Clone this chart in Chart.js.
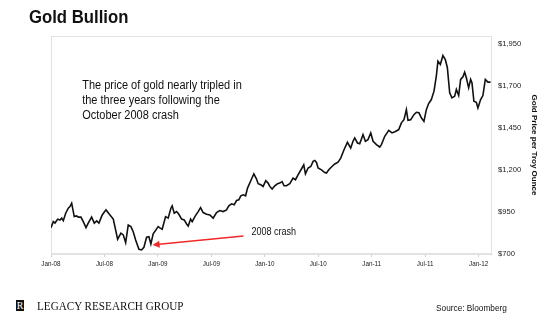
<!DOCTYPE html>
<html>
<head>
<meta charset="utf-8">
<script src="https://cdn.jsdelivr.net/npm/chart.js@4.4.1/dist/chart.umd.min.js"></script>
<style>
  html, body { margin: 0; padding: 0; background: #fff; }
  #wrap { position: relative; width: 560px; height: 321px; overflow: hidden; }
  #chart { position: absolute; left: 0; top: 0; }
  .txt { position: absolute; white-space: nowrap; line-height: 1; transform-origin: 0 0; color: #111; }
  #title { left: 29px; top: 5.9px; font: bold 19px 'Liberation Sans', Arial, sans-serif; transform: scaleX(0.88); }
  #logo { position: absolute; left: 16px; top: 300px; width: 8px; height: 11px; background: #111; color: #fff;
          font: 10px 'Liberation Serif', serif; line-height: 11px; text-align: center; }
  #brand { left: 37px; top: 299.9px; font: 11.5px 'Liberation Serif', 'Times New Roman', serif; transform: scaleX(0.97); }
  #source { left: 436px; top: 303.4px; font: 9px 'Liberation Sans', Arial, sans-serif; transform: scaleX(0.92); }
</style>
</head>
<body>
<div id="wrap">
  <canvas id="chart" width="560" height="321"></canvas>
  <div class="txt" id="title">Gold Bullion</div>
  <div id="logo">R</div>
  <div class="txt" id="brand">LEGACY RESEARCH GROUP</div>
  <div class="txt" id="source">Source: Bloomberg</div>
</div>
<script>
// months since Jan-2008
const months = [0, 0.26, 0.45, 0.75, 1.01, 1.2, 1.38, 1.65, 1.94, 2.13, 2.32, 2.61, 2.88, 3.06, 3.36, 3.62, 3.93, 4.18, 4.56, 4.86,
  5.13, 5.38, 5.75, 6.17, 6.62, 6.99, 7.48, 7.85, 8.11, 8.38, 8.67, 8.97, 9.23, 9.5, 9.87, 10.17, 10.43, 10.73, 10.99, 11.21,
  11.47, 11.78, 12.03, 12.22, 12.48, 12.86, 13.15, 13.46, 13.6, 13.83, 14.1, 14.35, 14.66, 14.95, 15.22, 15.4, 15.67, 15.85, 16.15, 16.52,
  16.79, 17.08, 17.46, 17.83, 18.2, 18.58, 18.95, 19.32, 19.7, 19.96, 20.27, 20.56, 20.83, 21.08, 21.31, 21.57, 21.84, 22.06, 22.51, 22.77,
  23.07, 23.25, 23.55, 23.81, 24.11, 24.37, 24.56, 24.82, 25.12, 25.42, 25.68, 25.94, 26.16, 26.43, 26.8, 27.17, 27.44, 27.73, 28.11, 28.37,
  28.56, 28.86, 29.16, 29.42, 29.61, 29.8, 29.98, 30.36, 30.73, 30.92, 31.18, 31.48, 31.85, 32.22, 32.52, 32.89, 33.27, 33.64, 33.9, 34.09,
  34.4, 34.65, 35.02, 35.29, 35.58, 35.89, 36.15, 36.53, 36.9, 37.09, 37.46, 37.91, 38.28, 38.66, 39.03, 39.33, 39.62, 39.89, 40.07, 40.37,
  40.74, 41.01, 41.3, 41.57, 41.86, 42.13, 42.39, 42.69, 42.99, 43.25, 43.43, 43.7, 43.99, 44.26, 44.49, 44.75, 45.0, 45.31, 45.5, 45.76,
  45.98, 46.24, 46.43, 46.62, 46.88, 47.1, 47.25, 47.47, 47.74, 47.92, 48.22, 48.48, 48.75, 49.04, 49.34];

// gold price, $ per troy ounce
const prices = [857, 893, 885, 908, 903, 914, 899, 943, 973, 983, 1003, 923, 927, 920, 920, 893, 857, 884, 920, 884,
  897, 884, 933, 963, 933, 908, 788, 824, 814, 768, 873, 863, 833, 784, 728, 724, 740, 800, 803, 760,
  820, 844, 863, 856, 848, 923, 914, 973, 987, 943, 953, 937, 908, 903, 879, 867, 908, 893, 923, 953,
  977, 947, 937, 933, 914, 947, 959, 953, 963, 987, 999, 993, 1019, 1023, 1047, 1053, 1047, 1093, 1147, 1178,
  1147, 1119, 1113, 1103, 1137, 1123, 1103, 1087, 1107, 1119, 1123, 1132, 1107, 1107, 1119, 1153, 1143, 1172, 1207, 1232,
  1178, 1213, 1222, 1252, 1258, 1246, 1213, 1202, 1186, 1183, 1202, 1219, 1237, 1248, 1272, 1322, 1366, 1332, 1372, 1392,
  1362, 1358, 1412, 1372, 1382, 1422, 1372, 1352, 1338, 1352, 1402, 1437, 1422, 1431, 1442, 1482, 1501, 1561, 1497, 1501,
  1531, 1545, 1542, 1512, 1491, 1561, 1597, 1621, 1671, 1760, 1850, 1830, 1884, 1860, 1811, 1661, 1631, 1641, 1681, 1645,
  1741, 1757, 1784, 1751, 1691, 1741, 1721, 1611, 1605, 1571, 1621, 1645, 1741, 1725, 1725];

const xTickMonths = [0, 6, 12, 18, 24, 30, 36, 42, 48];
const xTickLabels = ['Jan-08', 'Jul-08', 'Jan-09', 'Jul-09', 'Jan-10', 'Jul-10', 'Jan-11', 'Jul-11', 'Jan-12'];
const yTicks = [700, 950, 1200, 1450, 1700, 1950];

const noteLines = ['The price of gold nearly tripled in', 'the three years following the', 'October 2008 crash'];

const sans = "'Liberation Sans', Arial, sans-serif";

// box around the plot, the note text and the red arrow
const extras = {
    id: 'extras',
    beforeDatasetsDraw(chart) {
        const { ctx, chartArea: a } = chart;
        ctx.save();
        ctx.strokeStyle = '#e2e2e2';
        ctx.lineWidth = 1;
        ctx.strokeRect(a.left + 0.5, a.top + 0.5, a.right - a.left - 1, a.bottom - a.top - 1);
        ctx.restore();
    },
    afterDraw(chart) {
        const { ctx } = chart;
        const xs = chart.scales.x, ys = chart.scales.y;

        function squishText(text, x, y, sx) {
            ctx.save();
            ctx.translate(x, y);
            ctx.scale(sx, 1);
            ctx.fillText(text, 0, 0);
            ctx.restore();
        }

        ctx.save();
        ctx.fillStyle = '#111';
        ctx.font = "12.5px " + sans;
        ctx.textBaseline = 'middle';
        const nx = xs.getPixelForValue(3.5);
        const ny = ys.getPixelForValue(1705);
        noteLines.forEach((t, i) => squishText(t, nx, ny + i * 15, 0.88));

        // 2008 crash arrow
        const x1 = xs.getPixelForValue(21.6), y1 = ys.getPixelForValue(808);
        const x2 = xs.getPixelForValue(11.4), y2 = ys.getPixelForValue(754);
        const ang = Math.atan2(y2 - y1, x2 - x1);
        ctx.strokeStyle = '#f02828';
        ctx.fillStyle = '#f02828';
        ctx.lineWidth = 1.5;
        ctx.beginPath();
        ctx.moveTo(x1, y1);
        ctx.lineTo(x2 - Math.cos(ang) * 4, y2 - Math.sin(ang) * 4);
        ctx.stroke();
        ctx.beginPath();
        ctx.moveTo(x2, y2);
        ctx.lineTo(x2 - Math.cos(ang) * 7 - Math.sin(ang) * 3.5, y2 - Math.sin(ang) * 7 + Math.cos(ang) * 3.5);
        ctx.lineTo(x2 - Math.cos(ang) * 7 + Math.sin(ang) * 3.5, y2 - Math.sin(ang) * 7 - Math.cos(ang) * 3.5);
        ctx.closePath();
        ctx.fill();

        ctx.fillStyle = '#111';
        ctx.font = "10.5px " + sans;
        squishText('2008 crash', xs.getPixelForValue(22.5), ys.getPixelForValue(832), 0.86);
        ctx.restore();
    }
};

new Chart(document.getElementById('chart'), {
    type: 'line',
    data: {
        datasets: [{
            data: months.map((m, i) => ({ x: m, y: prices[i] })),
            borderColor: '#111',
            borderWidth: 1.6,
            pointRadius: 0,
            tension: 0
        }]
    },
    options: {
        responsive: false,
        animation: false,
        layout: { padding: { left: 51, top: 36, right: 19, bottom: 47 } },
        plugins: { legend: { display: false }, tooltip: { enabled: false } },
        scales: {
            x: {
                type: 'linear',
                min: 0,
                max: 49.5,
                afterBuildTicks: s => { s.ticks = xTickMonths.map(v => ({ value: v })); },
                afterFit: s => { s.height = 20; },
                ticks: {
                    callback: (v, i) => xTickLabels[i],
                    autoSkip: false,
                    maxRotation: 0,
                    padding: 3,
                    color: '#222',
                    font: { family: sans, size: 6.3 }
                },
                grid: { drawOnChartArea: false, drawTicks: true, tickLength: 3, color: '#cfcfcf' },
                border: { color: '#e2e2e2' }
            },
            y: {
                position: 'right',
                min: 700,
                max: 2000,
                afterBuildTicks: s => { s.ticks = yTicks.map(v => ({ value: v })); },
                afterFit: s => { s.width = 49; },
                ticks: {
                    callback: v => '$' + v.toLocaleString('en-US'),
                    padding: 6,
                    color: '#222',
                    font: { family: sans, size: 7.6 }
                },
                grid: { display: false, drawTicks: false },
                border: { display: false },
                title: {
                    display: true,
                    text: 'Gold Price per Troy Ounce',
                    color: '#111',
                    padding: { top: 2, bottom: 2 },
                    font: { family: sans, size: 8, weight: 'bold' }
                }
            }
        }
    },
    plugins: [extras]
});
</script>
</body>
</html>
